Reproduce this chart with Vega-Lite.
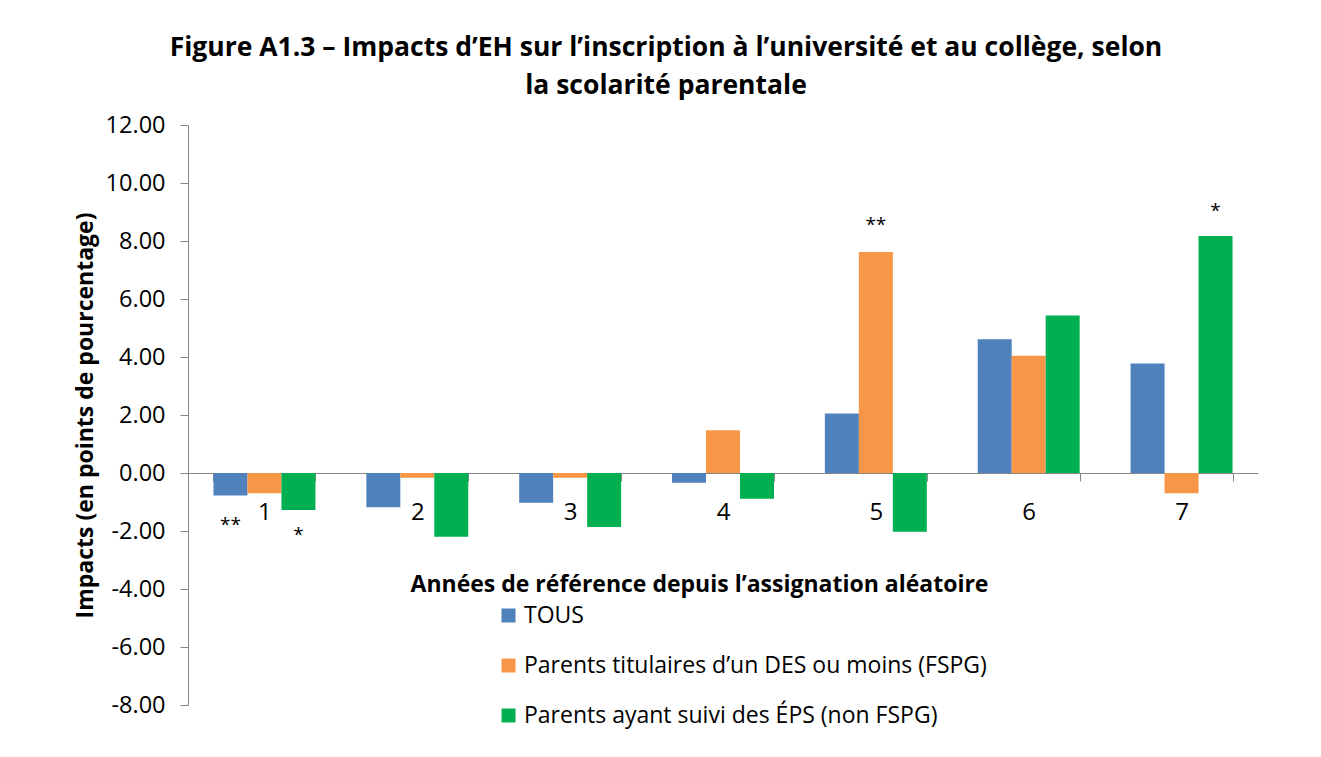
{
  "$schema": "https://vega.github.io/schema/vega-lite/v6.json",
  "width": 1070,
  "height": 580,
  "autosize": {"type": "none"},
  "padding": {"left": 188, "top": 125, "right": 63, "bottom": 52},
  "background": "white",
  "config": {
    "font": "Open Sans",
    "view": {"stroke": null},
    "axis": {"domainColor": "#868686", "tickColor": "#868686", "labelColor": "#000000", "titleColor": "#000000", "grid": false, "labelFont": "Open Sans", "titleFont": "Open Sans"},
    "legend": {"labelFont": "Open Sans"}
  },
  "title": {
    "text": ["Figure A1.3 – Impacts d’EH sur l’inscription à l’université et au collège, selon", "la scolarité parentale"],
    "fontSize": 26.5,
    "fontWeight": "bold",
    "font": "Open Sans",
    "anchor": "middle",
    "frame": "bounds",
    "lineHeight": 38,
    "offset": 14,
    "color": "#000000"
  },
  "datasets": {
    "bars": [
      {"annee": "1", "serie": "TOUS", "valeur": -0.78},
      {"annee": "1", "serie": "Parents titulaires d’un DES ou moins (FSPG)", "valeur": -0.70},
      {"annee": "1", "serie": "Parents ayant suivi des ÉPS (non FSPG)", "valeur": -1.28},
      {"annee": "2", "serie": "TOUS", "valeur": -1.18},
      {"annee": "2", "serie": "Parents titulaires d’un DES ou moins (FSPG)", "valeur": -0.16},
      {"annee": "2", "serie": "Parents ayant suivi des ÉPS (non FSPG)", "valeur": -2.20},
      {"annee": "3", "serie": "TOUS", "valeur": -1.03},
      {"annee": "3", "serie": "Parents titulaires d’un DES ou moins (FSPG)", "valeur": -0.16},
      {"annee": "3", "serie": "Parents ayant suivi des ÉPS (non FSPG)", "valeur": -1.86},
      {"annee": "4", "serie": "TOUS", "valeur": -0.34},
      {"annee": "4", "serie": "Parents titulaires d’un DES ou moins (FSPG)", "valeur": 1.47},
      {"annee": "4", "serie": "Parents ayant suivi des ÉPS (non FSPG)", "valeur": -0.89},
      {"annee": "5", "serie": "TOUS", "valeur": 2.05},
      {"annee": "5", "serie": "Parents titulaires d’un DES ou moins (FSPG)", "valeur": 7.62},
      {"annee": "5", "serie": "Parents ayant suivi des ÉPS (non FSPG)", "valeur": -2.03},
      {"annee": "6", "serie": "TOUS", "valeur": 4.61},
      {"annee": "6", "serie": "Parents titulaires d’un DES ou moins (FSPG)", "valeur": 4.04},
      {"annee": "6", "serie": "Parents ayant suivi des ÉPS (non FSPG)", "valeur": 5.43},
      {"annee": "7", "serie": "TOUS", "valeur": 3.78},
      {"annee": "7", "serie": "Parents titulaires d’un DES ou moins (FSPG)", "valeur": -0.70},
      {"annee": "7", "serie": "Parents ayant suivi des ÉPS (non FSPG)", "valeur": 8.17}
    ],
    "etoiles": [
      {"annee": "1", "serie": "TOUS", "position": -1.8, "texte": "**"},
      {"annee": "1", "serie": "Parents ayant suivi des ÉPS (non FSPG)", "position": -2.15, "texte": "*"},
      {"annee": "5", "serie": "Parents titulaires d’un DES ou moins (FSPG)", "position": 8.55, "texte": "**"},
      {"annee": "7", "serie": "Parents ayant suivi des ÉPS (non FSPG)", "position": 9.05, "texte": "*"}
    ]
  },
  "encoding": {
    "x": {
      "field": "annee",
      "type": "ordinal",
      "scale": {"paddingInner": 0.333, "paddingOuter": 0.1667},
      "axis": {
        "offset": -232,
        "labelAngle": 0,
        "labelFontSize": 24,
        "labelPadding": 19,
        "tickSize": 8,
        "tickBand": "extent",
        "title": "Années de référence depuis l’assignation aléatoire",
        "titleFontSize": 23,
        "titleFontWeight": "bold",
        "titleX": 511,
        "titleY": 111,
        "titleBaseline": "middle",
        "titleAnchor": null
      }
    },
    "xOffset": {
      "field": "serie",
      "type": "nominal",
      "sort": ["TOUS", "Parents titulaires d’un DES ou moins (FSPG)", "Parents ayant suivi des ÉPS (non FSPG)"]
    },
    "y": {
      "type": "quantitative",
      "scale": {"domain": [-8, 12], "nice": false, "zero": false},
      "axis": {
        "values": [-8, -6, -4, -2, 0, 2, 4, 6, 8, 10, 12],
        "labelExpr": "replace(format(datum.value, '.2f'), '\u2212', '-')",
        "labelFontSize": 23.5,
        "labelPadding": 15,
        "tickSize": 8,
        "title": "Impacts (en points de pourcentage)",
        "titleFontSize": 23,
        "titleFontWeight": "bold",
        "titleX": -103,
        "titleY": 290,
        "titleAngle": 270,
        "titleBaseline": "middle",
        "titleAnchor": null
      }
    }
  },
  "layer": [
    {
      "data": {"name": "bars"},
      "mark": {"type": "bar"},
      "encoding": {
        "y": {"field": "valeur", "type": "quantitative"},
        "color": {
          "field": "serie",
          "type": "nominal",
          "sort": ["TOUS", "Parents titulaires d’un DES ou moins (FSPG)", "Parents ayant suivi des ÉPS (non FSPG)"],
          "scale": {
            "domain": ["TOUS", "Parents titulaires d’un DES ou moins (FSPG)", "Parents ayant suivi des ÉPS (non FSPG)"],
            "range": ["#4F81BD", "#F79646", "#00B050"]
          },
          "legend": {
            "title": null,
            "orient": "none",
            "legendX": 309,
            "legendY": 479,
            "symbolType": "square",
            "symbolSize": 196,
            "symbolStrokeWidth": 0,
            "labelFontSize": 23,
            "labelOffset": 4,
            "rowPadding": 26,
            "labelLimit": 800
          }
        }
      }
    },
    {
      "data": {"name": "etoiles"},
      "mark": {"type": "text", "fontSize": 19, "color": "#000000", "baseline": "middle"},
      "encoding": {
        "y": {"field": "position", "type": "quantitative"},
        "text": {"field": "texte"}
      }
    }
  ]
}
